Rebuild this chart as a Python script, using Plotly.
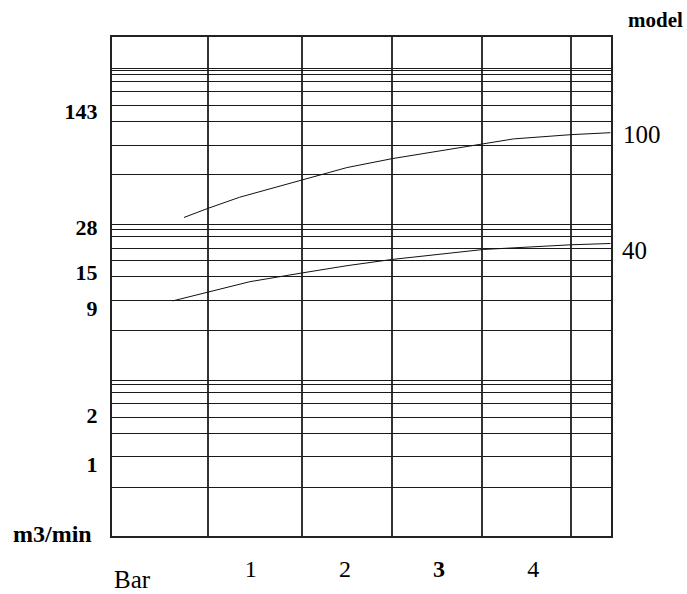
import plotly.graph_objects as go

# ---- data ----
# pressure (bar) and flow (m3/min) for the two compressor models
model_names = ["100", "40"]
pressure_100 = [0.29, 0.55, 0.88, 1.54, 2.02, 2.50, 3.47, 3.79, 4.40, 4.82]
flow_100 = [32.3, 36.8, 42.9, 54.5, 65.1, 73.8, 91.2, 97.4, 103.4, 106.3]
pressure_40 = [0.17, 0.55, 0.99, 1.54, 2.02, 2.50, 3.47, 4.40, 4.82]
flow_40 = [10.0, 11.3, 13.1, 14.8, 16.4, 17.9, 20.6, 22.0, 22.4]

# axis labels
x_tick_vals = [1, 2, 3, 4]
x_tick_text = ["1", "2", "<b>3</b>", "4"]
y_tick_vals = [1, 2, 9, 15, 28, 143]
y_tick_text = ["<b>1</b>", "<b>2</b>", "<b>9</b>", "<b>15</b>", "<b>28</b>", "<b>143</b>"]

# hand-drawn grid of the log paper (vertical lines in bar, horizontal in paper units)
x_grid = [0.55, 1.54, 2.50, 3.46, 4.40]
paper_grid = [2.05, 3.25, 4.55, 5.8, 7.05, 8.3, 9.4, 10,
              20.8, 32.3, 46.3, 59, 69.8, 83.9, 92.5, 100,
              210, 320, 458, 579, 711, 832, 925, 972, 1000]

FONT = "Liberation Serif"

fig = go.Figure()
# empty trace so that the log-paper grid axis is drawn
fig.add_trace(go.Scatter(x=[None], y=[None], mode="lines", xaxis="x", yaxis="y",
                         showlegend=False, hoverinfo="skip"))
fig.add_trace(go.Scatter(x=pressure_100, y=flow_100, mode="lines", name=model_names[0],
                         line=dict(color="#111", width=1), xaxis="x", yaxis="y2",
                         showlegend=False))
fig.add_trace(go.Scatter(x=pressure_40, y=flow_40, mode="lines", name=model_names[1],
                         line=dict(color="#111", width=1), xaxis="x", yaxis="y2",
                         showlegend=False))

fig.update_layout(
    width=687, height=594,
    margin=dict(l=112, r=76, t=37, b=53),
    paper_bgcolor="white", plot_bgcolor="white",
    font=dict(family=FONT, color="black"),
    xaxis=dict(
        range=[-0.475, 4.826], zeroline=False, showgrid=False,
        tickmode="array", tickvals=x_tick_vals, ticktext=x_tick_text,
        tickfont=dict(size=24, family=FONT), ticks="", ticklabelstandoff=10,
        showline=True, mirror=True, linecolor="#222", linewidth=1.5,
        minor=dict(tickvals=x_grid, showgrid=True, gridcolor="#333", gridwidth=1.5, ticks=""),
    ),
    yaxis=dict(
        type="log", range=[0, 3.204], tickmode="array", tickvals=paper_grid,
        showticklabels=False, ticks="", showgrid=True, gridcolor="#1a1a1a", gridwidth=1,
        showline=True, mirror=True, linecolor="#222", linewidth=1.5, zeroline=False,
    ),
    yaxis2=dict(
        type="log", range=[-0.4348, 2.6105], overlaying="y", side="left", anchor="x",
        tickmode="array", tickvals=y_tick_vals, ticktext=y_tick_text,
        tickfont=dict(size=22, family=FONT), ticks="outside", ticklen=9,
        tickcolor="rgba(0,0,0,0)",
        showgrid=False, zeroline=False, showline=False,
    ),
    annotations=[
        dict(text="<b>model</b>", xref="paper", yref="paper", x=1.148, y=1.0337,
             xanchor="right", yanchor="middle", showarrow=False, font=dict(size=21, family=FONT)),
        dict(text=model_names[0], xref="paper", yref="paper", x=1.0207, y=0.8042,
             xanchor="left", yanchor="middle", showarrow=False, font=dict(size=25, family=FONT)),
        dict(text=model_names[1], xref="paper", yref="paper", x=1.0187, y=0.572,
             xanchor="left", yanchor="middle", showarrow=False, font=dict(size=25, family=FONT)),
        dict(text="<b>m3/min</b>", xref="paper", yref="paper", x=-0.0367, y=0.0045,
             xanchor="right", yanchor="middle", showarrow=False, font=dict(size=24, family=FONT)),
        dict(text="Bar", xref="paper", yref="paper", x=0.0, y=-0.0867,
             xanchor="left", yanchor="middle", showarrow=False, font=dict(size=25, family=FONT)),
    ],
)

fig.write_html("out.html", config={"displayModeBar": False},
               post_script="document.body.style.margin='0';")
